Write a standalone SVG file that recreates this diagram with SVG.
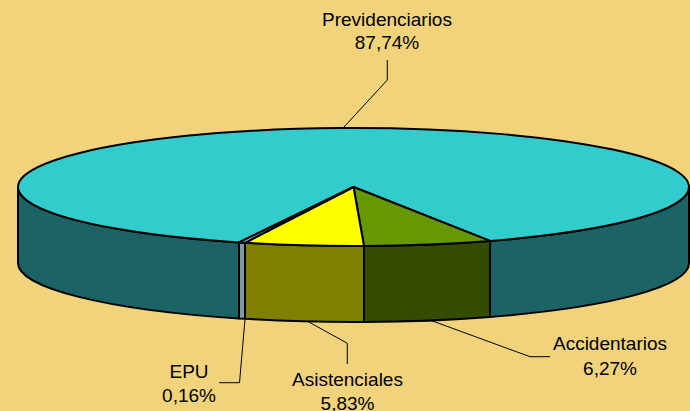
<svg xmlns="http://www.w3.org/2000/svg" width="690" height="411" viewBox="0 0 690 411">
<style>
.o{stroke:#000;stroke-width:2;stroke-linejoin:round}
.l{fill:none;stroke:#000;stroke-width:1}
text{font-family:"Liberation Sans",Arial,sans-serif;font-size:19px;fill:#000;text-anchor:middle}
</style>
<rect width="690" height="411" fill="#F1D37C"/>
<g id="previdenciarios">
<path class="o" fill="#1B6364" d="M18,187 L18,263 A335.5 59 0 0 0 239,318.46 L239,242.46 A335.5 59 0 0 1 18,187 Z"/>
<path class="o" fill="#1B6364" d="M490,240.9 L490,316.9 A335.5 59 0 0 0 689,263 L689,187 A335.5 59 0 0 1 490,240.9 Z"/>
<path class="o" fill="#33CCCC" d="M353.5,187 L239,242.46 A335.5 59 0 1 1 490,240.9 Z"/>
</g>
<g id="accidentarios">
<path class="o" fill="#334C00" d="M490,240.9 A335.5 59 0 0 1 364,245.97 L364,321.97 A335.5 59 0 0 0 490,316.9 Z"/>
<path class="o" fill="#669900" d="M353.5,187 L490,240.9 A335.5 59 0 0 1 364,245.97 Z"/>
</g>
<g id="asistenciales">
<path class="o" fill="#808000" d="M364,245.97 A335.5 59 0 0 1 245,242.83 L245,318.83 A335.5 59 0 0 0 364,321.97 Z"/>
<path class="o" fill="#FFFF00" d="M353.5,187 L364,245.97 A335.5 59 0 0 1 245,242.83 Z"/>
</g>
<g id="epu">
<path class="o" fill="#7F9AA0" d="M245,242.83 A335.5 59 0 0 1 239,242.46 L239,318.46 A335.5 59 0 0 0 245,318.83 Z"/>
<path class="o" fill="#A8BCC4" d="M353.5,187 L245,242.83 A335.5 59 0 0 1 239,242.46 Z"/>
</g>
<g id="connectors">
<polyline class="l" points="343.3,127.7 387.3,80 387.3,60"/>
<polyline class="l" points="431.7,320.7 530,356.7 550,356.7"/>
<polyline class="l" points="308.3,321.7 347.3,343.3 347.3,364"/>
<polyline class="l" points="245,319.3 239.5,382.7 219,382.7"/>
</g>
<g id="labels">
<text x="387" y="25.5">Previdenciarios</text>
<text x="387" y="49">87,74%</text>
<text x="610" y="350">Accidentarios</text>
<text x="610" y="375">6,27%</text>
<text x="347.5" y="386">Asistenciales</text>
<text x="347.5" y="410">5,83%</text>
<text x="189" y="377.5">EPU</text>
<text x="189" y="401.5">0,16%</text>
</g>
</svg>
